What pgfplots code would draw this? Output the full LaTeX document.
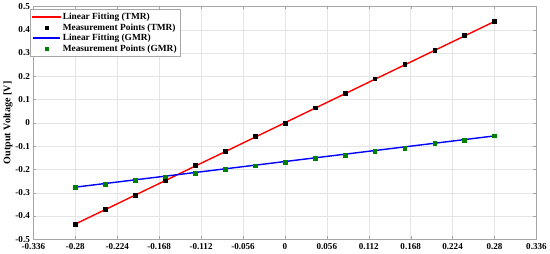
\documentclass[border=0pt]{standalone}
\usepackage{fontspec}
\setmainfont{Liberation Serif}
\usepackage{pgfplots}
\pgfplotsset{compat=1.18}
\definecolor{tmrred}{RGB}{255,0,0}
\definecolor{gmrblue}{RGB}{0,0,255}
\definecolor{gmrgreen}{RGB}{0,128,0}
\begin{document}
\begin{tikzpicture}
\begin{axis}[
    scale only axis,
    width=499pt, height=231pt,
    xmin=-0.336, xmax=0.336,
    ymin=-0.5, ymax=0.5,
    xtick={-0.336,-0.28,-0.224,-0.168,-0.112,-0.056,0,0.056,0.112,0.168,0.224,0.28,0.336},
    xticklabels={-0.336,-0.28,-0.224,-0.168,-0.112,-0.056,0,0.056,0.112,0.168,0.224,0.28,0.336},
    ytick={-0.5,-0.4,...,0.5},
    yticklabels={-0.5,-0.4,-0.3,-0.2,-0.1,0,0.1,0.2,0.3,0.4,0.5},
    /pgf/number format/assume math mode=true,
    grid=major,
    grid style={gray!20, line width=0.4pt},
    axis line style={gray!70},
    tick style={gray!70},
    tick align=inside,
    major tick length=3pt,
    ticklabel style={font=\bfseries\fontsize{9}{10}\selectfont},
    xticklabel style={yshift=-1pt},
    ylabel={\textbf{Output Voltage [V]}},
    ylabel style={font=\bfseries\fontsize{10}{12}\selectfont, yshift=-4pt},
    legend style={at={(-0.006,0.988)}, anchor=north west, font=\bfseries\fontsize{9.3}{10}\selectfont,
        draw=gray!70, row sep=-1.5pt, inner sep=1.5pt},
    legend cell align=left,
]
\addplot[draw=tmrred, line width=1.4pt, no marks,
  legend image code/.code={%
    \pgfsetstrokecolor{tmrred}\pgfsetfillcolor{tmrred}%
    \begin{scope}[color=tmrred]
    \fill[tmrred] (0cm,-0.6pt) rectangle (0.95cm,0.6pt);
    \end{scope}}]
  coordinates {(-0.28,-0.4345) (0.28,0.4355)};
\addlegendentry{Linear Fitting (TMR)}
\addplot[only marks, mark=square*, mark size=1.9pt, black,
  legend image code/.code={\fill[black] (0.475cm-1.6pt,-1.6pt) rectangle (0.475cm+1.6pt,1.6pt);}]
  coordinates {
(-0.28,-0.435) (-0.24,-0.372) (-0.20,-0.310) (-0.16,-0.245) (-0.12,-0.182) (-0.08,-0.120) (-0.04,-0.058)
(0,0.000) (0.04,0.065) (0.08,0.128) (0.12,0.190) (0.16,0.252) (0.20,0.312) (0.24,0.375) (0.28,0.435)};
\addlegendentry{Measurement Points (TMR)}
\addplot[draw=gmrblue, line width=1.4pt, no marks,
  legend image code/.code={\draw[draw=gmrblue, line width=1.2pt] (0cm,0cm) -- (0.95cm,0cm);}]
  coordinates {(-0.28,-0.276) (0.28,-0.056)};
\addlegendentry{Linear Fitting (GMR)}
\addplot[only marks, mark=square*, mark size=1.9pt, gmrgreen,
  legend image code/.code={\fill[gmrgreen] (0.475cm-1.6pt,-1.6pt) rectangle (0.475cm+1.6pt,1.6pt);}]
  coordinates {
(-0.28,-0.276) (-0.24,-0.262) (-0.20,-0.246) (-0.16,-0.231) (-0.12,-0.215) (-0.08,-0.200) (-0.04,-0.184)
(0,-0.168) (0.04,-0.153) (0.08,-0.138) (0.12,-0.123) (0.16,-0.107) (0.20,-0.089) (0.24,-0.073) (0.28,-0.055)};
\addlegendentry{Measurement Points (GMR)}
\end{axis}
\end{tikzpicture}
\end{document}
